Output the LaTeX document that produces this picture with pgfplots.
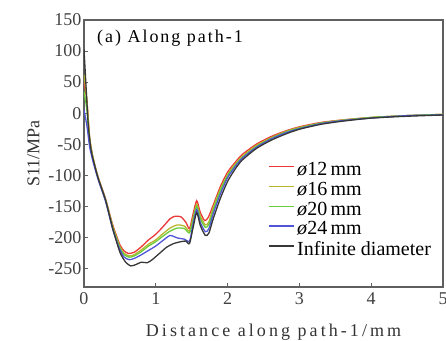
\documentclass[border=0pt]{standalone}
\usepackage{pgfplots}
\pgfplotsset{compat=1.18}
\usepackage{fontspec}
\setmainfont{Liberation Serif}
\newfontfamily\spaced[LetterSpace=17]{Liberation Serif}
\newfontfamily\spacedt[LetterSpace=11]{Liberation Serif}
\definecolor{cred}{RGB}{235,55,55}
\definecolor{cyel}{RGB}{185,180,45}
\definecolor{cgrn}{RGB}{105,205,60}
\definecolor{cblu}{RGB}{80,85,215}
\definecolor{cblk}{RGB}{55,55,55}
\definecolor{axgray}{RGB}{95,95,95}
\begin{document}
\begin{tikzpicture}
\begin{axis}[
  scale only axis,
  width=359pt, height=267pt,
  xmin=0, xmax=5, ymin=-280, ymax=150,
  xtick={0,1,2,3,4,5}, ytick={-250,-200,...,150},
  xtick pos=bottom, ytick pos=left,
  tick align=inside,
  major tick length=4pt,
  axis line style={axgray, line width=1.3pt},
  every tick/.style={axgray, line width=1pt},
  tick label style={font=\fontsize{18}{20}\selectfont, text=black!75},
  /pgf/number format/assume math mode=true,
  yticklabel style={/pgf/number format/fixed, xshift=1pt},
  xticklabel style={yshift=-2pt},
  xlabel={\spaced Distance along path-1/mm},
  ylabel={S11/MPa},
  label style={font=\fontsize{18}{20}\selectfont, text=black!80},
  xlabel style={yshift=-12pt, xshift=10pt},
  ylabel style={yshift=2pt},
  legend style={at={(rel axis cs:0.512,0.475)}, anchor=north west, draw=none, fill=none,
    font=\fontsize{20}{20}\selectfont, row sep=1pt, inner sep=0pt,
    /tikz/every even column/.append style={column sep=5pt}},
  legend cell align=left,
  legend image post style={line width=1.5pt, xscale=1.5, yshift=3pt},
  every axis plot/.append style={line width=1.3pt, smooth, tension=0.4},
]
\addplot[cred] coordinates {
(0,50) (0.04,20) (0.08,-42) (0.13,-74) (0.2,-104) (0.3,-138) (0.4,-180) (0.5,-212) (0.56,-222) (0.62,-226) (0.7,-224) (0.8,-215) (0.9,-204) (1.0,-195) (1.1,-183) (1.2,-170) (1.27,-166) (1.35,-167) (1.42,-176) (1.47,-186) (1.52,-162) (1.57,-141) (1.62,-160) (1.68,-173) (1.73,-168) (1.8,-148) (1.9,-118) (2.0,-95) (2.1,-80) (2.2,-67) (2.4,-50) (2.6,-38) (2.8,-29) (3.0,-22) (3.3,-15) (3.6,-11) (4.0,-7) (4.5,-4) (5.0,-2)};
\addlegendentry{\textit{ø}12\,mm}
\addplot[cyel] coordinates {
(0,62) (0.04,22) (0.08,-40) (0.13,-74) (0.2,-105) (0.3,-139) (0.4,-182) (0.5,-215) (0.56,-226) (0.63,-230) (0.7,-228) (0.8,-220) (0.9,-211) (1.0,-204) (1.1,-194) (1.2,-185) (1.3,-180) (1.4,-182) (1.47,-190) (1.52,-168) (1.57,-147) (1.62,-166) (1.69,-180) (1.74,-175) (1.8,-152) (1.9,-122) (2.0,-99) (2.1,-83) (2.2,-70) (2.4,-52) (2.6,-40) (2.8,-30) (3.0,-23) (3.3,-16) (3.6,-11) (4.0,-7) (4.5,-4) (5.0,-2)};
\addlegendentry{\textit{ø}16\,mm}
\addplot[cgrn] coordinates {
(0,35) (0.04,5) (0.08,-48) (0.13,-76) (0.2,-106) (0.3,-140) (0.4,-184) (0.5,-217) (0.56,-228) (0.63,-232) (0.7,-230) (0.8,-223) (0.9,-214) (1.0,-207) (1.1,-198) (1.2,-190) (1.3,-185) (1.4,-186) (1.47,-193) (1.52,-172) (1.57,-150) (1.62,-170) (1.69,-184) (1.74,-179) (1.8,-156) (1.9,-125) (2.0,-101) (2.1,-85) (2.2,-72) (2.4,-54) (2.6,-41) (2.8,-31) (3.0,-24) (3.3,-16) (3.6,-12) (4.0,-7) (4.5,-4) (5.0,-2)};
\addlegendentry{\textit{ø}20\,mm}
\addplot[cblu] coordinates {
(0,5) (0.04,-20) (0.08,-55) (0.13,-80) (0.2,-108) (0.3,-142) (0.4,-187) (0.5,-220) (0.56,-232) (0.63,-236) (0.7,-234) (0.8,-228) (0.9,-221) (1.0,-214) (1.1,-205) (1.2,-197) (1.3,-201) (1.4,-203) (1.47,-206) (1.52,-178) (1.57,-155) (1.62,-176) (1.69,-191) (1.74,-186) (1.8,-162) (1.9,-130) (2.0,-104) (2.1,-87) (2.2,-73) (2.4,-55) (2.6,-42) (2.8,-32) (3.0,-25) (3.3,-17) (3.6,-12) (4.0,-8) (4.5,-4) (5.0,-3)};
\addlegendentry{\textit{ø}24\,mm}
\addplot[cblk] coordinates {
(0,103) (0.03,40) (0.06,-20) (0.1,-60) (0.15,-85) (0.2,-106) (0.3,-140) (0.4,-186) (0.5,-224) (0.58,-240) (0.65,-246) (0.72,-244) (0.8,-240) (0.88,-241) (0.95,-236) (1.05,-226) (1.15,-216) (1.25,-210) (1.35,-207) (1.42,-206) (1.47,-210) (1.52,-184) (1.57,-160) (1.62,-181) (1.69,-197) (1.74,-193) (1.8,-170) (1.9,-137) (2.0,-110) (2.1,-91) (2.2,-76) (2.4,-57) (2.6,-44) (2.8,-34) (3.0,-26) (3.3,-18) (3.6,-13) (4.0,-8) (4.5,-5) (5.0,-3)};
\addlegendentry{Infinite diameter}
\node[anchor=north west, font=\fontsize{18}{20}\selectfont, inner sep=0pt] at (rel axis cs:0.036,0.962) {\spacedt (a) Along path-1};
\coordinate (ll) at (rel axis cs:0,0);
\coordinate (ur) at (rel axis cs:1,1);
\end{axis}
\pgfresetboundingbox
\path ([shift={(-84pt,-53pt)}]ll) rectangle ([shift={(3pt,20pt)}]ur);
\end{tikzpicture}
\end{document}
